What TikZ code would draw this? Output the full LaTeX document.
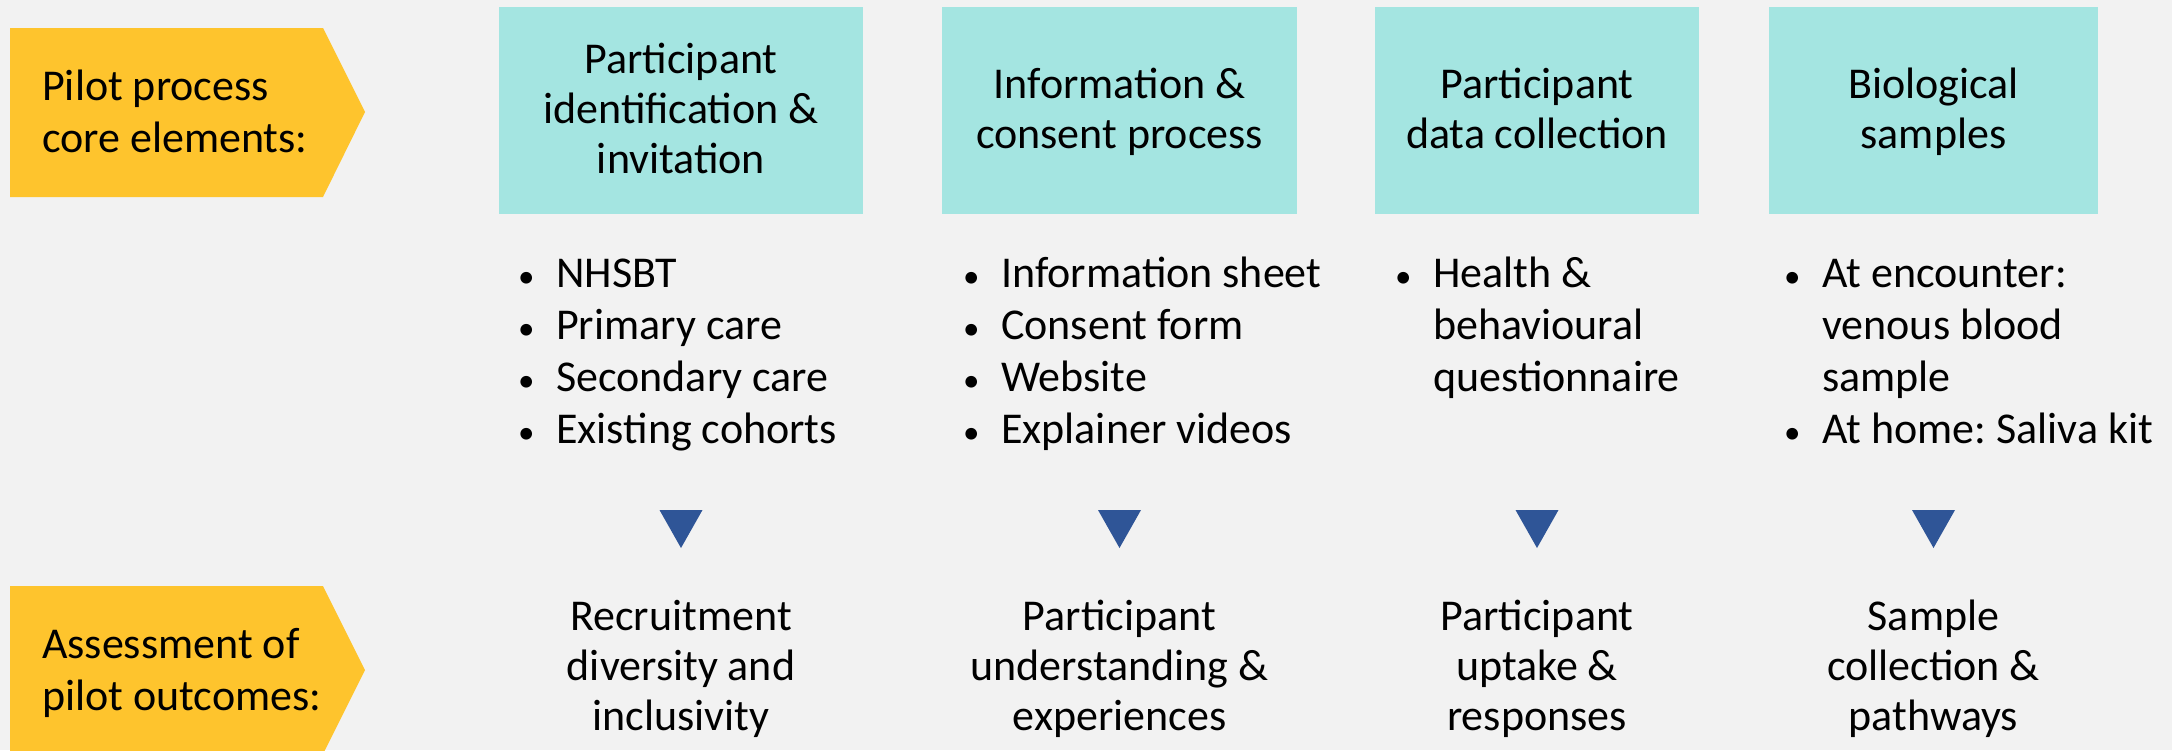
\documentclass[tikz,border=0pt]{standalone}
\usepackage{fontspec}
\setmainfont{Carlito}
\frenchspacing
\definecolor{bgc}{HTML}{F2F2F2}
\definecolor{tealc}{HTML}{A4E5E1}
\definecolor{yelc}{HTML}{FEC42D}
\definecolor{triblue}{HTML}{2F5597}
\newcommand\mylines[1]{\begin{tabular}[t]{@{}c@{}}#1\end{tabular}}
\newcommand\myleft[1]{\begin{tabular}[t]{@{}l@{}}#1\end{tabular}}
\newcommand\mybul{\makebox[41pt][l]{\hspace{3pt}\fontsize{33}{33}\selectfont\textbullet}}
\newcommand\mylist[1]{\begin{tabular}[t]{@{}l@{}l@{}}#1\end{tabular}}
\tikzset{
  corebox/.style={fill=tealc, inner sep=0pt},
  titletxt/.style={inner sep=0pt, anchor=base, font=\fontsize{44}{50}\selectfont},
  listtxt/.style={inner sep=0pt, anchor=base west, font=\fontsize{44}{52}\selectfont},
  sidetxt/.style={inner sep=0pt, anchor=base west, font=\fontsize{44}{52}\selectfont},
  pent/.style={fill=yelc},
  tri/.style={fill=triblue},
}
\begin{document}
\begin{tikzpicture}[x=1pt,y=-1pt]
\useasboundingbox[fill=bgc] (0,0) rectangle (2172,750);
% yellow side arrows
\fill[pent] (10,28) -- (323,28) -- (365,112) -- (323,197) -- (10,197) -- cycle;
\fill[pent] (10,586) -- (323,586) -- (365,670) -- (323,754) -- (10,754) -- cycle;
\node[sidetxt] (lab1) at (42,100) {\myleft{Pilot process\\core elements:}};
\node[sidetxt] (lab2) at (42,658) {\myleft{Assessment of\\pilot outcomes:}};
% core element boxes
\node[corebox, minimum width=364pt, minimum height=207pt] (b1) at (681,110.5) {};
\node[corebox, minimum width=355pt, minimum height=207pt] (b2) at (1119.5,110.5) {};
\node[corebox, minimum width=324pt, minimum height=207pt] (b3) at (1537,110.5) {};
\node[corebox, minimum width=329pt, minimum height=207pt] (b4) at (1933.5,110.5) {};
\node[titletxt] (t1) at (681,73) {\mylines{Participant\\identification \&\\invitation}};
\node[titletxt] (t2) at (1119.5,98) {\mylines{Information \&\\consent process}};
\node[titletxt] (t3) at (1537,98) {\mylines{Participant\\data collection}};
\node[titletxt] (t4) at (1933.5,98) {\mylines{Biological\\samples}};
% bullet lists
\node[listtxt] (l1) at (515,287) {\mylist{\mybul&NHSBT\\\mybul&Primary care\\\mybul&Secondary care\\\mybul&Existing cohorts}};
\node[listtxt] (l2) at (960,287) {\mylist{\mybul&Information sheet\\\mybul&Consent form\\\mybul&Website\\\mybul&Explainer videos}};
\node[listtxt] (l3) at (1392,287) {\mylist{\mybul&Health \&\\&behavioural\\&questionnaire}};
\node[listtxt] (l4) at (1781,287) {\mylist{\mybul&At encounter:\\&venous blood\\&sample\\\mybul&At home: Saliva kit}};
% triangles
\foreach \cx in {681,1119.5,1537,1933.5}{
  \fill[tri] (\cx-21.5,510) -- (\cx+21.5,510) -- (\cx,548) -- cycle;
}
% outcomes
\node[titletxt] (o1) at (681,630) {\mylines{Recruitment\\diversity and\\inclusivity}};
\node[titletxt] (o2) at (1119.5,630) {\mylines{Participant\\understanding \&\\experiences}};
\node[titletxt] (o3) at (1537,630) {\mylines{Participant\\uptake \&\\responses}};
\node[titletxt] (o4) at (1933.5,630) {\mylines{Sample\\collection \&\\pathways}};
\end{tikzpicture}
\end{document}
